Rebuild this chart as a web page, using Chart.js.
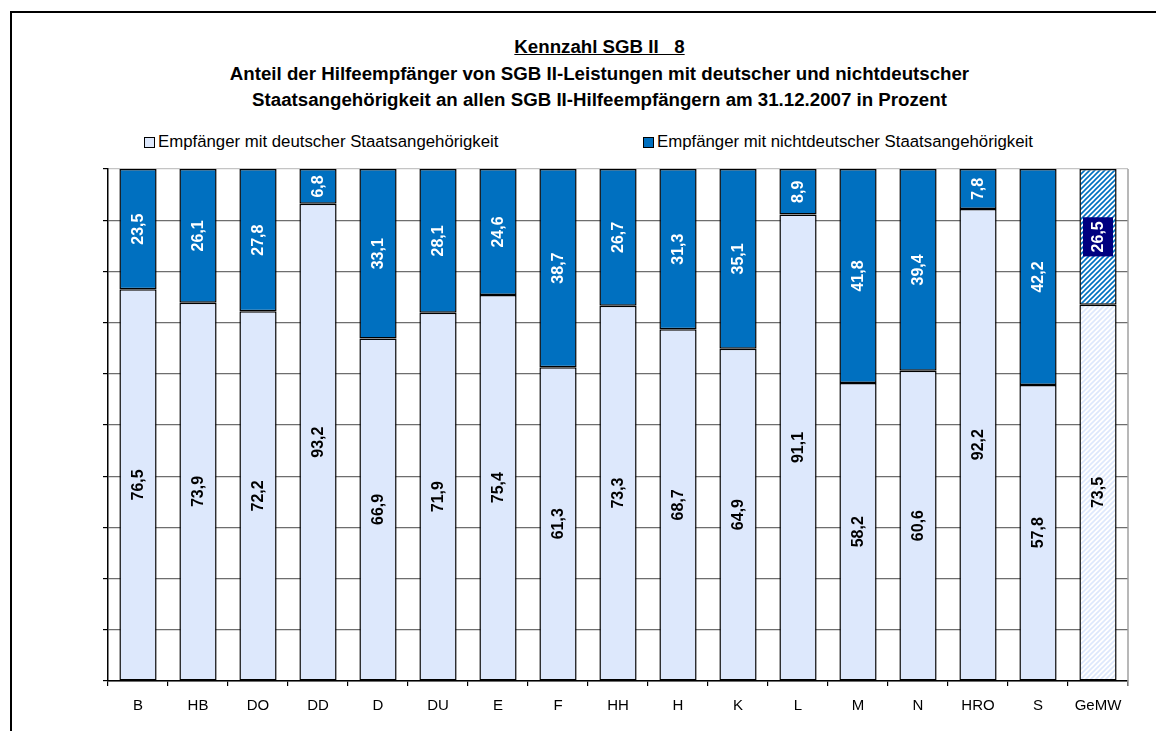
<!DOCTYPE html>
<html lang="de">
<head>
    <meta charset="UTF-8">
    <title>Kennzahl SGB II 8</title>
    <script src="https://cdn.jsdelivr.net/npm/chart.js"></script>
    <style>
        body { margin: 0; background: #fff; font-family: Arial, "Liberation Sans", Helvetica, sans-serif; }
        #wrap { position: relative; width: 1156px; height: 731px; overflow: hidden; }
        #frame { position: absolute; left: 10px; top: 11px; width: 1200px; height: 800px; border-left: 2px solid #000; border-top: 2px solid #000; }
        #titel { position: absolute; left: 0; top: 34px; width: 1199px; text-align: center; font-weight: bold; font-size: 18.7px; line-height: 26.5px; color: #000; }
        #titel u { white-space: pre; }
        .leg { position: absolute; top: 133px; font-size: 16.8px; color: #000; white-space: nowrap; line-height: 18px; }
        .leg i { display: inline-block; width: 9px; height: 9px; border: 1px solid #000; margin-right: 3px; vertical-align: -1px; }
        canvas { position: absolute; left: 0; top: 0; }
    </style>
</head>
<body>
<div id="wrap">
    <div id="frame"></div>
    <div id="titel">
        <u>Kennzahl SGB II   8</u><br>
        Anteil der Hilfeempfänger von SGB II-Leistungen mit deutscher und nichtdeutscher<br>
        Staatsangehörigkeit an allen SGB II-Hilfeempfängern am 31.12.2007 in Prozent
    </div>
    <div class="leg" id="leg0" style="left:144px"></div>
    <div class="leg" id="leg1" style="left:643px"></div>
    <canvas id="chart" width="1156" height="731"></canvas>
</div>
<script>
    // Daten
    const kategorien = ['B', 'HB', 'DO', 'DD', 'D', 'DU', 'E', 'F', 'HH', 'H', 'K', 'L', 'M', 'N', 'HRO', 'S', 'GeMW'];
    const deutsch = [76.5, 73.9, 72.2, 93.2, 66.9, 71.9, 75.4, 61.3, 73.3, 68.7, 64.9, 91.1, 58.2, 60.6, 92.2, 57.8, 73.5];
    const nichtdeutsch = [23.5, 26.1, 27.8, 6.8, 33.1, 28.1, 24.6, 38.7, 26.7, 31.3, 35.1, 8.9, 41.8, 39.4, 7.8, 42.2, 26.5];
    const serienNamen = ['Empfänger mit deutscher Staatsangehörigkeit', 'Empfänger mit nichtdeutscher Staatsangehörigkeit'];
    const yMax = 100;
    const yStep = 10;
    const mittelwert = kategorien.indexOf('GeMW');

    const hell = '#DDE8FC';
    const blau = '#0070C0';
    const schrift = 'Arial, "Liberation Sans", Helvetica, sans-serif';

    // Schraffur fuer den Mittelwert
    function schraffur(bg, fg, lw) {
        const c = document.createElement('canvas');
        c.width = 5; c.height = 5;
        const g = c.getContext('2d');
        g.fillStyle = bg;
        g.fillRect(0, 0, 5, 5);
        g.strokeStyle = fg;
        g.lineWidth = lw;
        g.beginPath();
        g.moveTo(-1, 6); g.lineTo(6, -1);
        g.moveTo(-1, 1); g.lineTo(1, -1);
        g.moveTo(4, 6); g.lineTo(6, 4);
        g.stroke();
        return g.createPattern(c, 'repeat');
    }

    const farbenDeutsch = kategorien.map((k, i) => i === mittelwert ? schraffur('#fff', hell, 1.6) : hell);
    const farbenNicht = kategorien.map((k, i) => i === mittelwert ? schraffur('#fff', blau, 1.6) : blau);

    // Legende
    document.getElementById('leg0').innerHTML = '<i style="background:' + hell + '"></i>' + serienNamen[0];
    document.getElementById('leg1').innerHTML = '<i style="background:' + blau + '"></i>' + serienNamen[1];

    const fmt = v => v.toFixed(1).replace('.', ',');

    // Werte senkrecht in die Balken schreiben
    const werteLabels = {
        id: 'werteLabels',
        afterDatasetsDraw(chart) {
            const ctx = chart.ctx;
            chart.data.datasets.forEach((ds, di) => {
                chart.getDatasetMeta(di).data.forEach((bar, i) => {
                    const txt = fmt(ds.data[i]);
                    ctx.save();
                    ctx.translate(bar.x, (bar.y + bar.base) / 2);
                    ctx.rotate(-Math.PI / 2);
                    ctx.font = 'bold 16px ' + schrift;
                    ctx.textAlign = 'center';
                    ctx.textBaseline = 'middle';
                    if (di === 1 && i === mittelwert) {
                        const w = ctx.measureText(txt).width;
                        ctx.fillStyle = '#000080';
                        ctx.fillRect(-w / 2 - 4, -15, w + 8, 30);
                    }
                    ctx.fillStyle = di === 1 ? '#fff' : '#000';
                    ctx.fillText(txt, 0, 1);
                    ctx.restore();
                });
            });
            // rechter Rand der Zeichenflaeche
            const a = chart.chartArea;
            ctx.save();
            ctx.strokeStyle = '#a0a0a0';
            ctx.lineWidth = 1.5;
            ctx.beginPath();
            ctx.moveTo(a.right, a.top);
            ctx.lineTo(a.right, a.bottom + 5);
            ctx.stroke();
            ctx.restore();
        }
    };

    new Chart(document.getElementById('chart').getContext('2d'), {
        type: 'bar',
        data: {
            labels: kategorien,
            datasets: [{
                label: serienNamen[0],
                data: deutsch,
                backgroundColor: farbenDeutsch,
                borderColor: '#000',
                borderWidth: 1.5,
                borderSkipped: false
            }, {
                label: serienNamen[1],
                data: nichtdeutsch,
                backgroundColor: farbenNicht,
                borderColor: '#000',
                borderWidth: 1.5,
                borderSkipped: false
            }]
        },
        options: {
            responsive: false,
            devicePixelRatio: 1,
            animation: false,
            datasets: { bar: { barPercentage: 0.62, categoryPercentage: 1 } },
            layout: { padding: { left: 103, top: 169, right: 28, bottom: 0 } },
            plugins: { legend: { display: false }, title: { display: false }, tooltip: { enabled: false } },
            scales: {
                x: {
                    stacked: true,
                    afterFit: s => { s.height = 50; },
                    grid: { offset: true, drawOnChartArea: false, tickLength: 5, color: '#000', lineWidth: 1.2 },
                    border: { color: '#000', width: 1.5 },
                    ticks: { padding: 11, color: '#000', font: { family: schrift, size: 15 } }
                },
                y: {
                    stacked: true,
                    min: 0,
                    max: yMax,
                    afterFit: s => { s.width = 5; },
                    grid: {
                        tickLength: 5,
                        tickColor: '#000',
                        lineWidth: 1.2,
                        color: c => c.tick && c.tick.value === yMax ? '#c4c4c4' : '#6e6e6e'
                    },
                    border: { color: '#000', width: 1.5 },
                    ticks: { stepSize: yStep, display: false }
                }
            }
        },
        plugins: [werteLabels]
    });
</script>
</body>
</html>
